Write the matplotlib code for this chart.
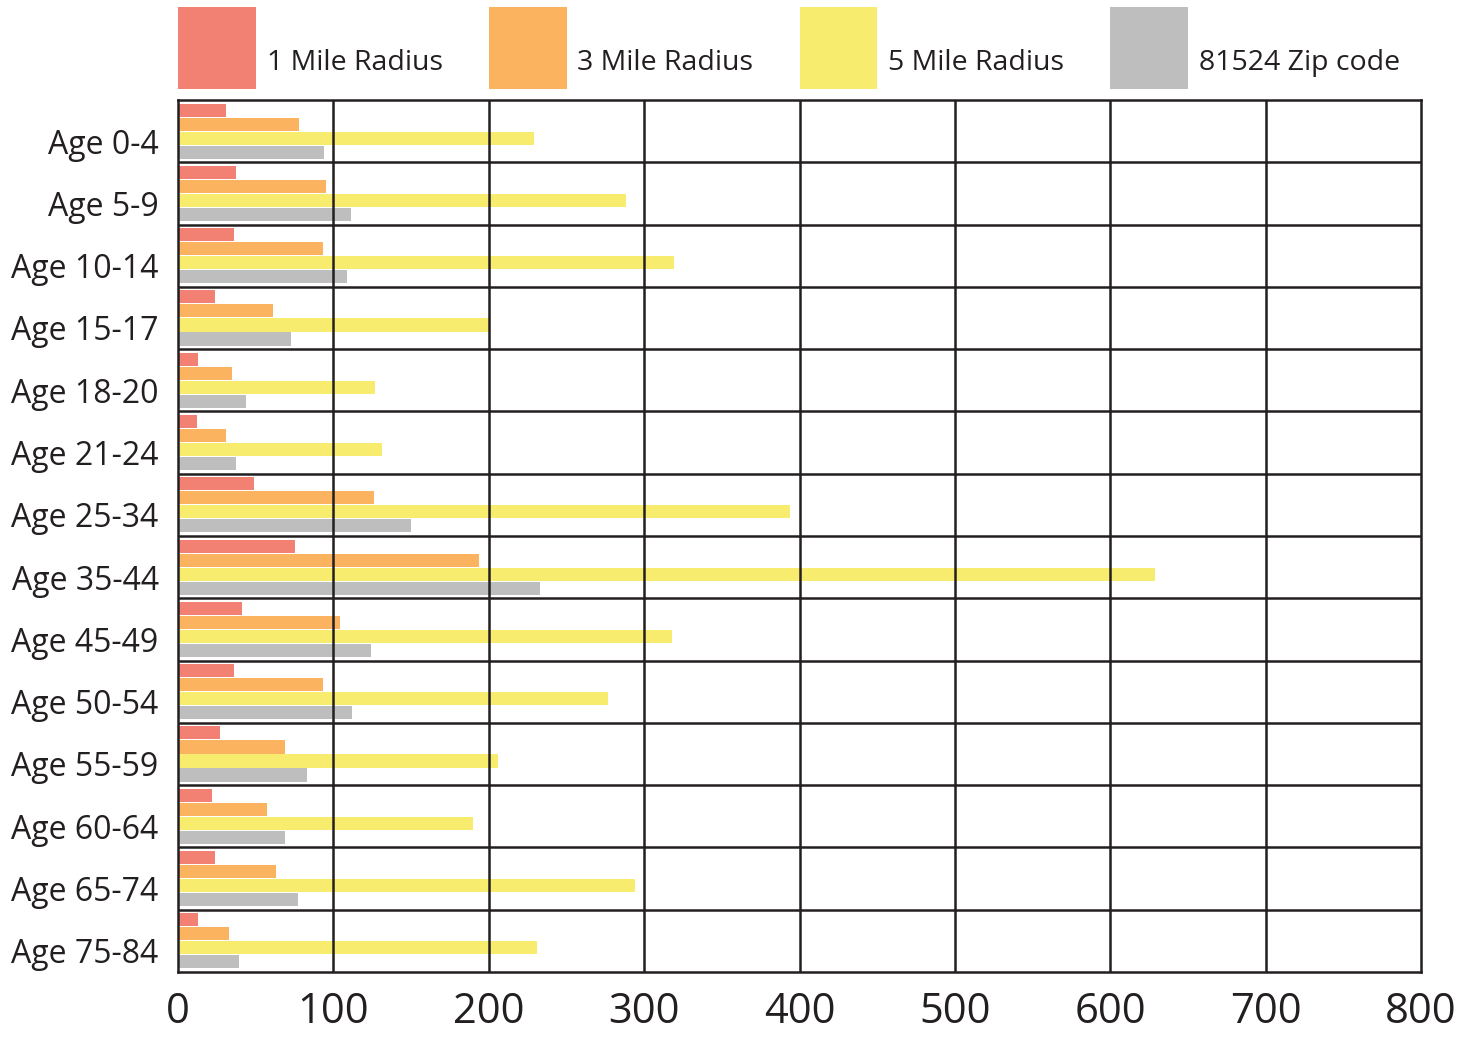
import matplotlib
matplotlib.use("Agg")
import matplotlib.pyplot as plt
from matplotlib.patches import Rectangle
from matplotlib.transforms import blended_transform_factory, ScaledTranslation
import numpy as np

plt.rcParams['font.family'] = ['Open Sans', 'DejaVu Sans']

categories = ["Age 0-4", "Age 5-9", "Age 10-14", "Age 15-17", "Age 18-20",
              "Age 21-24", "Age 25-34", "Age 35-44", "Age 45-49", "Age 50-54",
              "Age 55-59", "Age 60-64", "Age 65-74", "Age 75-84"]
series_names = ["1 Mile Radius", "3 Mile Radius", "5 Mile Radius", "81524 Zip code"]
mile1 = [31, 37, 36, 24, 13, 12, 49, 75, 41, 36, 27, 22, 24, 13]
mile3 = [78, 95, 93, 61, 35, 31, 126, 194, 104, 93, 69, 57, 63, 33]
mile5 = [229, 288, 319, 200, 127, 131, 394, 629, 318, 277, 206, 190, 294, 231]
zipcode = [94, 111, 109, 73, 44, 37, 150, 233, 124, 112, 83, 69, 77, 39]
x_ticks = [0, 100, 200, 300, 400, 500, 600, 700, 800]

colors = ["#f28073", "#fbb360", "#f8ec6e", "#bebebe"]
line_color = "#231f20"

fig = plt.figure(figsize=(14.62, 10.38), dpi=100)
ax = fig.add_axes([0.1218, 0.0636, 0.8502, 0.8401])

n = len(categories)
y = np.arange(n)
bar_h = 0.21
pitch = 0.225
for i, vals in enumerate([mile1, mile3, mile5, zipcode]):
    ax.barh(y + (i - 1.5) * pitch, vals, height=bar_h, color=colors[i],
            zorder=1, linewidth=0)

ax.set_xlim(0, 800)
ax.set_ylim(n - 0.5, -0.5)

# grid: vertical lines at each tick, horizontal separators between rows
for xv in x_ticks[1:-1]:
    ax.axvline(xv, color=line_color, lw=1.8, zorder=2)
for k in range(1, n):
    ax.axhline(k - 0.5, color=line_color, lw=1.8, zorder=2)
for s in ax.spines.values():
    s.set_color(line_color)
    s.set_linewidth(1.8)
    s.set_zorder(3)

ax.set_yticks(y)
ax.set_yticklabels(categories, fontsize=23, color=line_color)
ax.set_xticks(x_ticks)
ax.set_xticklabels([str(v) for v in x_ticks], fontsize=30, color=line_color)
ax.tick_params(axis='y', length=0, pad=14)
ax.tick_params(axis='x', length=0, pad=14)

# category labels sit slightly below the row centre
shift = ScaledTranslation(0, -10 / 100, fig.dpi_scale_trans)
for lab in ax.get_yticklabels():
    lab.set_transform(lab.get_transform() + shift)

# legend across the top, swatches aligned with the axis scale
trans = blended_transform_factory(ax.transData, fig.transFigure)
sw_w = 50
for i, name in enumerate(series_names):
    x0 = i * 200
    rect = Rectangle((x0, 1 - 89 / 1038), sw_w, 82 / 1038, transform=trans,
                     facecolor=colors[i], edgecolor='none', clip_on=False)
    fig.add_artist(rect)
    t = fig.text(0, 1 - 63 / 1038, name, transform=trans, fontsize=20.5,
                 color=line_color, va='center', ha='left')
    t.set_x(x0 + sw_w + 7)

fig.savefig("out.png", dpi=100)
